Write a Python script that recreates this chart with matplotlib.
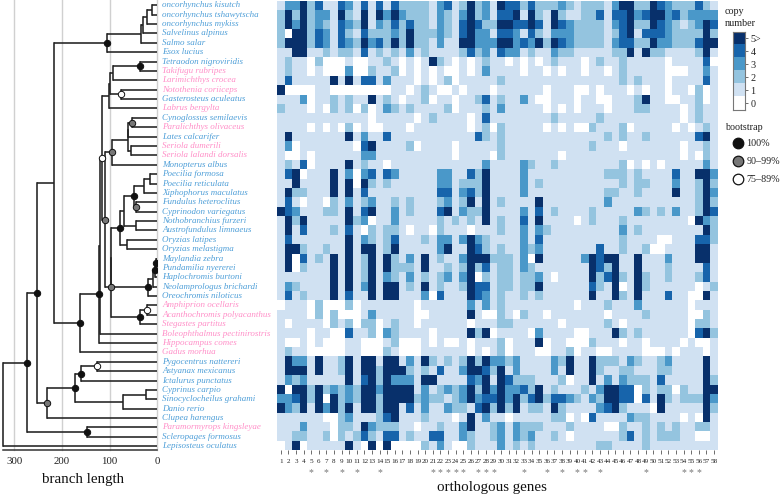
import numpy as np
import matplotlib
matplotlib.use("Agg")
import matplotlib.pyplot as plt
from matplotlib.colors import ListedColormap, BoundaryNorm

plt.rcParams['font.family'] = ['Liberation Serif', 'DejaVu Serif']

W, H = 780, 495

species = ["oncorhynchus kisutch", "oncorhynchus tshawytscha", "oncorhynchus mykiss", "Salvelinus alpinus",
           "Salmo salar", "Esox lucius", "Tetraodon nigroviridis", "Takifugu rubripes", "Larimichthys crocea",
           "Notothenia coriiceps", "Gasterosteus aculeatus", "Labrus bergylta", "Cynoglossus semilaevis",
           "Paralichthys olivaceus", "Lates calcarifer", "Seriola dumerili", "Seriola lalandi dorsalis",
           "Monopterus albus", "Poecilia formosa", "Poecilia reticulata", "Xiphophorus maculatus",
           "Fundulus heteroclitus", "Cyprinodon variegatus", "Nothobranchius furzeri", "Austrofundulus limnaeus",
           "Oryzias latipes", "Oryzias melastigma", "Maylandia zebra", "Pundamilia nyererei",
           "Haplochromis burtoni", "Neolamprologus brichardi", "Oreochromis niloticus", "Amphiprion ocellaris",
           "Acanthochromis polyacanthus", "Stegastes partitus", "Boleophthalmus pectinirostris",
           "Hippocampus comes", "Gadus morhua", "Pygocentrus nattereri", "Astyanax mexicanus",
           "Ictalurus punctatus", "Cyprinus carpio", "Sinocyclocheilus grahami", "Danio rerio",
           "Clupea harengus", "Paramormyrops kingsleyae", "Scleropages formosus", "Lepisosteus oculatus"]

pink_species = {"Takifugu rubripes", "Larimichthys crocea", "Notothenia coriiceps", "Labrus bergylta",
                "Paralichthys olivaceus", "Seriola dumerili", "Seriola lalandi dorsalis", "Amphiprion ocellaris",
                "Acanthochromis polyacanthus", "Stegastes partitus", "Boleophthalmus pectinirostris",
                "Hippocampus comes", "Gadus morhua", "Paramormyrops kingsleyae"}

# Copy number per species: "column:value" or "first-last:value"; every other column holds 1.
copy_rows = [
 "1-2:3 3:5 4:2 5:4 8:4 9:3 11:4 13:4 15:4 16-19:2 21:3 22:4 24:2 25:5 26:2 27:3 29:5 30-31:4 32:2 33:4 34-36:2 37:3 38:2 40-42:2 44:3 45-46:5 47-48:2 49:5 50:4 51:3 52-54:2 55:4 56:2",
 "0:2 1:5 2:2 3:5 4:2 5-6:3 8:5 9:2 11:5 13:5 14:3 15:5 16:3 17-19:2 21:3 22:2 24:3 25:5 26:2 27:3 29-30:4 31:5 33:5 34:2 36:5 37:2 40-41:2 42:4 44-45:4 46:5 47:3 48:4 49-50:5 51:3 52:4 53:2 54-57:3",
 "0:2 1:5 2:3 3:5 4:2 5:3 6:2 8:4 9:3 10:2 11:5 13:3 14:2 15:4 16:2 17:4 18-19:2 21:3 22:2 24:4 25:5 26:4 27-28:2 29-30:5 31-32:4 33:5 34:4 36:5 37:4 38:3 39-42:2 44:3 45:4 46:5 47-48:2 49:5 50:4 51:3 52:2 54:2 55:3 56:5 57:4",
 "0:2 1:0 2-3:5 4:2 5:4 6:3 8:4 9:2 11:4 12-14:2 15:3 16:2 17:5 18-20:2 21:3 22:2 24:4 25:5 26-27:3 29-30:4 31:3 33:4 34:2 36-38:3 39-42:2 44:2 45:4 46:5 48-50:4 51:3 52-55:2 56:5 57:2",
 "0:2 1-3:5 4:2 5:4 6:3 8:4 9:3 10:2 11:5 12:3 13:4 14:2 15:5 16:2 17:5 18-19:2 21:3 24-25:5 26-28:3 29-30:5 31:3 32:4 33:3 34:5 35:2 36:5 37:4 38:3 39-42:2 44:3 45-46:4 47-48:2 49:5 50-51:3 52-54:2 55:4 56-57:5",
 "2-3:5 6:2 8-9:2 11:4 13:2 15:2 17:3 19:2 24:2 25:4 26:2 27:3 29:4 30-31:3 33:2 36:3 37-38:2 44-45:2 46:5 48:5 49-50:2 55:2 56:5",
 "1:2 4:0 5:2 6-8:0 10-11:0 14:2 16:0 18:0 20:5 21:2 23:0 25:0 27:2 30:0 32:0 34:0 36:2 40:0 42:2 45:2 51:0 56:4 57:0",
 "1:2 4:0 6-8:0 9:3 10-11:0 12:2 15:2 16:0 18:0 20:0 22-23:0 25:0 27:3 32:0 35:0 37:0 40:0 43:0 45:2 51-53:0 56:3",
 "1:4 7:5 9:5 11-12:4 14:3 18:0 20:0 22:2 23:0 29:2 45:2 47:2 51:0 56:4",
 "0:5 1-4:0 7-14:0 17:0 19:2 21-22:0 24:0 28:0 35:0 39-40:0 42:0 46:0 48:0 51:0 54:0 55:2 56:0",
 "3:3 4:0 7:2 9:2 12:5 14:2 16:0 19:2 20:0 23:0 26:2 27:4 29:2 32:3 34-35:0 39:0 42-43:0 47:2 48:5 51-52:0 55:2 56:0",
 "0:2 4:0 6:0 7:2 9:2 10:0 11:2 12:0 14:3 15:2 17:2 22:2 23:0 27:2 29:3 35:0 37:0 39:0 43:0 47-48:2 53:0 55:2",
 "12:0 18:0 20:2 25:0 27:4 36:2 42:2 53:0 55:2",
 "4:0 6:0 8:0 9:2 10:0 12-13:0 17:0 25:0 27:2 28:0 29:2 35:0 37:0 39-40:0 41:2 45:2 46:0 52:0 54:0 56:2",
 "1:5 9:5 11:3 14:4 26:4 27:2 29:2 43:2 45:2 48:2 55:4 56:5",
 "1:3 2:0 10:0 11:4 12:5 17:2 18:0 23:0 29:2 41:2 45:0 53:0 56:2",
 "1-2:0 4:0 11-12:3 23:0 28:0 29:2 37:0 53:0 55:0 56:2",
 "1:2 3:4 4:0 9:5 11:2 14:0 27:3 32:3 33:2 36:2 45:2 46:0 48:0 50:0 56:3",
 "1:4 2:5 3:0 7:5 9:3 10:0 11:3 12:4 14:4 15:3 21-22:3 25:4 26:2 27:5 32:3 43-45:2 47:2 52:4 55-56:5 57:3",
 "2:5 7:5 9:5 10:0 11:5 12:2 14:2 21-22:3 24-26:2 27:5 32:3 34:2 45:2 47-48:2 52:3 55:2 56:5 57:2",
 "1:5 2-3:2 7:5 9:5 11:4 21-22:4 24:3 25:4 26:2 27:5 32:3 43-44:2 47:2 52:5 55:2 56:5 57:3",
 "1:4 3:0 6:0 7:2 9:3 11:2 12:3 15:2 17:2 21:2 22:3 24:2 25:5 27:5 29:2 34:5 43:3 55:2 56:5 57:2",
 "0:5 1:4 2:3 6-7:2 9:5 11:4 12:5 15:3 17:2 21:4 22:5 24:3 25-26:2 27:5 32:3 34:4 36:2 41:2 47:3 48:2 50:2 52:3 55:2 56:5 57:4",
 "1:5 2:2 3:5 9:5 10:2 11:3 12:0 15:3 21:2 23:2 25:2 27:5 29:2 32:4 34:5 39:0 41:2 45:2 54:0 55:5 56:3 57:2",
 "1:5 3:4 7:2 9:4 11:0 12:2 14-15:2 17:0 20:0 21:2 25:0 29:2 32:3 34:3 35:2 45:3 47:2 56:5 57:2",
 "1:4 9:5 11:3 12:2 14:2 15:4 19:2 21-22:3 24:3 25:5 26:3 27:2 32:3 34:4 45:2 50-51:0 55-56:4 57:2",
 "1-2:5 3:2 6:2 9:5 11-12:5 14:2 15:5 21:3 22:5 25:5 26:4 27:2 29:2 32:3 33:2 34:3 42:4 45:2 48:2 49-50:0 55-56:5",
 "1:5 2:0 3:4 5:2 7:5 9:5 11:2 12:5 14:5 15:2 17:3 19:5 21:2 24:3 25-27:5 28-30:2 32:3 33:0 34:5 40:3 41:5 42:4 43-44:5 47:5 51:3 55-56:5",
 "1:5 2:0 3:2 7:5 9:5 11:2 12:5 14:5 15-17:2 19:5 22:2 24:2 25:5 26:2 27:4 29-30:2 32:3 33:2 41:5 42:4 43:2 44:5 47:5 51:2 56:4",
 "7:5 9:5 11:2 12:5 14:3 15:2 17:3 19:2 21:2 22:3 24:3 25:5 26:0 27:2 29-30:2 32-33:2 34:3 36:0 41:5 42:2 43:4 44:5 45:2 47:5 48:2 51:2 55:2 56:4",
 "1:3 2:2 7:5 9:5 11:3 12:5 14-15:5 17:2 19:5 21:2 24:2 25:5 26-27:4 29-30:2 32-33:2 34:5 41:4 42:2 44:5 45:0 47:5 48:2 55:0 57:2",
 "1:4 3:2 7:5 9:4 12:5 14-15:5 19:3 20:0 21:4 25:5 26:4 27:3 29:2 32:2 34:2 41:5 44:5 45:2 47:5 51:4 54-55:0 56:5",
 "0:0 4:0 5:2 6-8:0 9:2 10:0 18:0 25:3 27:3 29:2 39:0 43:2 47:3 54:0",
 "4:0 5:2 6:0 7:2 8-10:0 12:3 18-19:0 25:5 27-28:0 29:2 31:0 32:2 35:0 43:0 48:2 54-55:0 56:2",
 "1:0 6:0 7:2 9:2 10:0 11-12:2 13:0 15:2 18:0 25:0 29-30:2 37:0 43:2 45:0 54:0 55-56:2",
 "4:0 7-8:0 9:4 12:2 13:0 14:3 15:2 20:0 25:5 26:2 27:5 28:0 33:0 34:3 39-40:0 44:5 45:2 47:2 54:0 55:4 56:5 57:2",
 "1-2:0 4:0 6-8:0 11-13:0 15:2 16-18:0 20:0 22-23:0 25:0 29:2 30:0 34:5 35:0 38-40:0 41:2 45:0 48:0 53:0 55-56:0",
 "1:2 4-8:0 11-13:0 14:2 16-18:0 25:0 27:0 29:2 30:0 34-35:0 38:2 39:0 42-43:0 48-50:0 52:0 56:0",
 "1:5 2-3:3 5:5 8:2 9:5 11-12:5 14-15:5 17:3 19:5 20:2 22:2 24:2 25:5 26:2 27:5 28-29:3 30:2 31:3 36:3 37:2 38:5 41:5 42-44:2 46:3 47:2 50:2 51:3 56:5",
 "1-3:5 5:5 8:2 9:5 11-12:5 13:2 14-16:5 17:2 19:2 21:4 24:3 25-26:5 27:4 28:2 29:5 31:3 36:3 38:5 41:5 42:2 45-46:2 50-51:2 56:5",
 "1:3 2:2 3:3 9:5 11:4 12:5 13:2 14:5 15-17:3 19-20:5 25:4 26:3 27:5 29:5 30:4 31-33:2 37:2 38:0 41:5 43:3 45:3 46-48:2 50:4 56:5 57:2",
 "0:5 1:0 2-3:5 4:2 5:5 6:2 7:3 8:2 9:3 10:2 11-12:5 13:3 14-17:5 19:3 21:2 22:3 23:2 24:3 25:5 26:2 27:5 28:3 29:5 30-31:3 32:4 33:2 34:5 36:2 40:2 42:3 43-44:5 45-46:4 47:0 48:2 50-51:2 52:0 53:2 56-57:5",
 "0-1:3 2:4 3:5 4:2 5:5 6:0 7:5 8:2 9:3 10:2 11-12:5 13:2 14-17:5 18:2 19:3 20-21:2 23:2 24:3 25:5 26:3 27-28:4 29:5 30:3 31:5 32:2 33:4 34:5 35:2 36-37:4 38:3 39:2 41:3 42:2 43-44:5 45-46:4 47:0 48:4 50:5 51:2 53-55:2 56:5 57:3",
 "0:5 1:3 2:2 3:5 5:5 6:3 7:5 8:2 9:5 11-12:5 13:2 14-15:5 17:4 19:3 22:3 23-24:2 26:4 27:5 28:2 29:5 30:2 31:5 33-34:2 36:5 37:2 42:3 43:4 44:5 45:2 49:0 50:5 56:5 57:2",
 "6-7:0 8:2 9:3 13:2 14:4 15:5 19:2 23:0 25:5 27:3 30:0 36-37:2 38:0 40:0 41:4 46:3 47-48:2 53:0 55:0 56:5",
 "3:3 7:0 8-9:2 11:5 12:3 13-15:2 18:0 21:2 24:3 25:5 28:2 29:3 31:3 32-34:2 38:2 43-44:0 45:2 48:2 50:2 52:2 55-56:2",
 "2-3:2 6:2 7:0 8:2 10:2 11:4 12:2 14-15:4 17:2 20-21:4 24:3 25:2 28:2 29:3 31:3 32:2 33:3 36:2 38:0 45:2 46:4 48:2 50-52:2 55-56:0",
 "0:0 2:5 3:0 9:5 11:0 12:5 13:0 14:5 15-18:0 19:2 21:3 23-24:0 25:2 29:3 31:2 33:2 42-43:2 48:2",
]

gene_labels = [str(i) for i in range(1, 59)]
starred_genes = [5, 7, 9, 11, 14, 21, 22, 23, 24, 25, 27, 28, 29, 33, 36, 38, 40, 41, 43, 49, 54, 55, 56]

copy_colors = ["#ffffff", "#d0e1f2", "#94c4df", "#4a98c9", "#1764ab", "#08306b"]
copy_ticks = ["0", "1", "2", "3", "4", "5>"]

# Tree: (age, bootstrap class, child, child); integers are species rows.
# bootstrap class: 'b' 100%, 'g' 90-99%, 'w' 75-89%, '' not shown
salmonids = (106, 'b', (34.2, '', (30.7, '', (20.6, '', (11, '', 0, 1), 2), 3), 4), 5)
puffer_group = (102, '', (100, '', (93, '', (36, 'b', 6, 7), 8), (77, 'w', 9, 10)), 11)
lates_group = (95.5, 'g', (62.5, '', (61, '', (52.5, 'g', 12, 13), 14), (56, '', 15, 16)), 17)
cyprinodonts = (70, '', (48, 'b', (27.5, '', (15, '', 18, 19), 20), (45, 'g', 21, 22)), (45, '', 23, 24))
cichlids = (19, 'b', (10, '', (5, 'b', (3.5, 'b', 27, 28), 29), 30), 31)
ovalentaria = (98, 'g', (97, '', (78, 'b', cyprinodonts, (64, '', 25, 26)), cichlids),
               (36, 'b', (21, 'w', 32, 33), 34))
percomorphs = (117, 'w', puffer_group, (110, 'g', lates_group, ovalentaria))
neoteleosts = (162, 'b', (123, 'b', (121, '', percomorphs, 35), 36), 37)
otomorphs = (231, 'g', (173, 'b', (161, 'b', (127, 'w', 38, 39), 40), (72, '', (24, '', 41, 42), 43)), 44)
osteoglossos = (148, 'b', 45, 46)
tree = (323, '', (274, 'b', (252, 'b', (216, '', salmonids, neoteleosts), otomorphs), osteoglossos), 47)

age_ticks = [300, 200, 100, 0]


def px_axes(x0, y0, x1, y1):
    return fig.add_axes([x0 / W, 1 - y1 / H, (x1 - x0) / W, (y1 - y0) / H])


def parse_row(spec, n=58):
    row = np.ones(n, dtype=int)
    for tok in spec.split():
        span, val = tok.split(':')
        a, _, b = span.partition('-')
        row[int(a):int(b or a) + 1] = int(val)
    return row


fig = plt.figure(figsize=(W / 100, H / 100), dpi=100)

# ---------- heatmap ----------
matrix = np.array([parse_row(s) for s in copy_rows])
cmap = ListedColormap(copy_colors)
norm = BoundaryNorm(np.arange(-0.5, 6.5), 6)
ax = px_axes(277, 1.4, 717.8, 450)
ax.imshow(matrix, cmap=cmap, norm=norm, aspect='auto', interpolation='nearest')
for s in ax.spines.values():
    s.set_visible(False)
ax.set_yticks([])
ax.set_xticks(range(58))
ax.set_xticklabels(gene_labels, fontsize=5.1, color='#222222')
ax.tick_params(axis='x', length=2.8, width=0.6, color='#555555', pad=3.8)
for g in starred_genes:
    ax.text(g - 1, 49.95, '*', ha='center', va='center', fontsize=7, color='#777777')
fig.text(491.5 / W, 1 - 488 / H, 'orthologous genes', ha='center', va='center', fontsize=10.8, color='#111111')

# ---------- tree ----------
tx = px_axes(0, 0, 157.3, 449.5)
tx.set_xlim(330, 0)
tx.set_ylim(47.35, -0.565)
tx.patch.set_visible(False)
for name, s in tx.spines.items():
    s.set_visible(name == 'bottom')
tx.spines['bottom'].set_bounds(323, 0)
tx.spines['bottom'].set_linewidth(1.1)
tx.spines['bottom'].set_color('#333333')
tx.set_yticks([])
tx.set_xticks(age_ticks)
tx.set_xticklabels([str(a) for a in age_ticks], fontsize=7.8, color='#222222')
tx.tick_params(axis='x', length=0, pad=5.5)
for a in age_ticks:
    tx.axvline(a, color='#d0d0d0', lw=1.0, zorder=0, clip_on=False)
fig.text(83.5 / W, 1 - 480 / H, 'branch length', ha='center', va='center', fontsize=10.8, color='#111111')

support_style = {'b': '#111111', 'g': '#777777', 'w': '#ffffff'}
dots = []


def draw(node):
    if isinstance(node, int):
        return 0.0, float(node)
    age, support, *children = node
    pos = [draw(c) for c in children]
    ys = [p[1] for p in pos]
    y = (ys[0] + ys[-1]) / 2
    tx.plot([age, age], [ys[0], ys[-1]], color='#222222', lw=1.15, solid_capstyle='projecting', zorder=2)
    for a, yy in pos:
        tx.plot([age, a], [yy, yy], color='#222222', lw=1.15, solid_capstyle='butt', zorder=2)
    if support:
        dots.append((age, y, support))
    return age, y


draw(tree)
for a, y, s in dots:
    tx.plot(a, y, 'o', ms=4.6, mfc=support_style[s], mec='#111111', mew=0.7, zorder=3)

for i, name in enumerate(species):
    tx.text(-10, i, name, style='italic', fontsize=6.5, va='center', ha='left', clip_on=False,
            color='#ff8fc8' if name in pink_species else '#4f9fd8')

# ---------- copy number legend ----------
fig.text(725 / W, 1 - 11 / H, 'copy', fontsize=7.3, va='center', color='#222222')
fig.text(725 / W, 1 - 23 / H, 'number', fontsize=7.3, va='center', color='#222222')
cb = px_axes(732.5, 32, 745, 109.5)
cb.imshow(np.arange(6)[::-1].reshape(-1, 1), cmap=cmap, norm=norm, aspect='auto', interpolation='nearest')
cb.set_xticks([])
cb.yaxis.tick_right()
cb.set_yticks(range(6))
cb.set_yticklabels(copy_ticks[::-1], fontsize=7.3, color='#222222')
cb.tick_params(axis='y', length=2, width=0.6, color='#555555', pad=2)
for s in cb.spines.values():
    s.set_color('#777777')
    s.set_linewidth(0.8)

# ---------- bootstrap legend ----------
fig.text(725 / W, 1 - 128 / H, 'bootstrap', fontsize=7.3, va='center', color='#222222')
lg = px_axes(725, 135, 780, 190)
lg.set_xlim(725, 780)
lg.set_ylim(190, 135)
lg.axis('off')
for key, y, label in [('b', 143, '100%'), ('g', 161, '90\u201399%'), ('w', 179, '75\u201389%')]:
    lg.plot(738, y, 'o', ms=7.6, mfc=support_style[key], mec='#111111', mew=0.9, clip_on=False)
    lg.text(746.5, y, label, fontsize=7.3, va='center', color='#222222')

fig.savefig('out.png', dpi=100)
